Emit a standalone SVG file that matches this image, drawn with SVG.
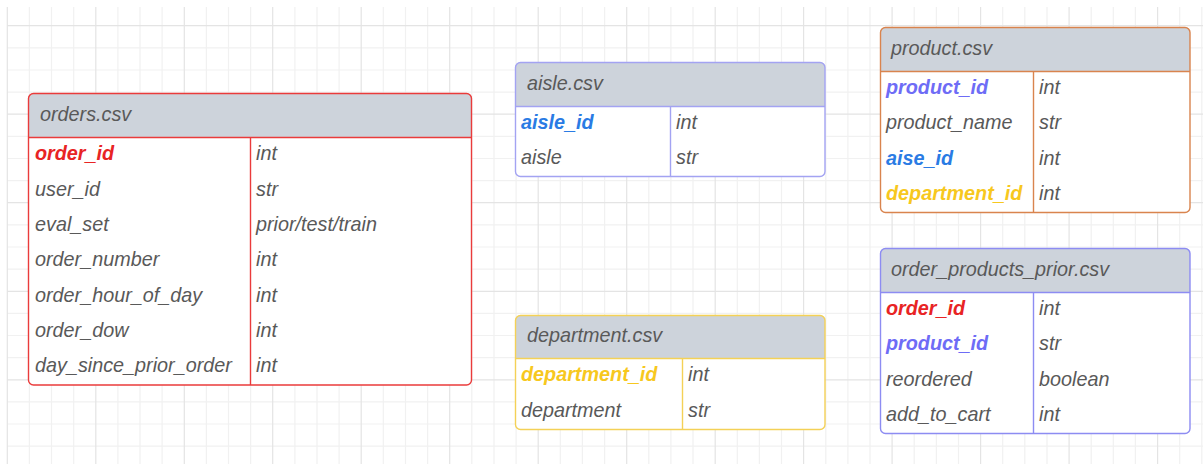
<svg xmlns="http://www.w3.org/2000/svg" width="1203" height="464" viewBox="0 0 1203 464">
<style>
.minor{stroke:#f1f1f1;stroke-width:1.2;fill:none}
.major{stroke:#e4e4e4;stroke-width:1.2;fill:none}
.hdr{fill:#cdd3db}
.box{fill:none;stroke-width:1.4}
.div{stroke-width:1.4}
text{font-family:"Liberation Sans",Arial,sans-serif;font-size:19.8px;font-style:italic;fill:#595959}
.key{font-weight:bold}
</style>
<rect width="1203" height="464" fill="#ffffff"/>
<g id="grid">
<path class="minor" d="M29.4 7V464M51.5 7V464M73.7 7V464M117.9 7V464M140 7V464M162.1 7V464M206.4 7V464M228.5 7V464M250.6 7V464M294.9 7V464M317 7V464M339.1 7V464M383.3 7V464M405.5 7V464M427.6 7V464M471.8 7V464M494 7V464M516.1 7V464M560.3 7V464M582.4 7V464M604.6 7V464M648.8 7V464M670.9 7V464M693 7V464M737.3 7V464M759.4 7V464M781.5 7V464M825.8 7V464M847.9 7V464M870 7V464M914.2 7V464M936.4 7V464M958.5 7V464M1002.7 7V464M1024.8 7V464M1047 7V464M1091.2 7V464M1113.3 7V464M1135.4 7V464M1179.7 7V464M1201.8 7V464M7 47.8H1203M7 70H1203M7 92.1H1203M7 136.4H1203M7 158.5H1203M7 180.6H1203M7 224.9H1203M7 247H1203M7 269.1H1203M7 313.4H1203M7 335.5H1203M7 357.7H1203M7 401.9H1203M7 424H1203M7 446.2H1203"/>
<path class="major" d="M7.3 7V464M95.8 7V464M184.3 7V464M272.7 7V464M361.2 7V464M449.7 7V464M538.2 7V464M626.7 7V464M715.2 7V464M803.6 7V464M892.1 7V464M980.6 7V464M1069.1 7V464M1157.6 7V464M7 25.7H1203M7 114.2H1203M7 202.7H1203M7 291.3H1203M7 379.8H1203"/>
</g>
<g id="connectors"/>
<g id="orders">
<rect x="28.5" y="93.5" width="443" height="291.5" rx="5" fill="#ffffff"/>
<path class="hdr" d="M28.5 137.5V98.5Q28.5 93.5 33.5 93.5H466.5Q471.5 93.5 471.5 98.5V137.5Z"/>
<path class="div" stroke="#ea3b3b" d="M28.5 137.5H471.5M250.5 137.5V385"/>
<rect class="box" stroke="#ea3b3b" x="28.5" y="93.5" width="443" height="291.5" rx="5"/>
<text x="40" y="120.6">orders.csv</text>
<text class="key" x="35" y="160.2" style="fill:#e82424">order_id</text>
<text x="35" y="195.5">user_id</text>
<text x="35" y="230.9">eval_set</text>
<text x="35" y="266.2">order_number</text>
<text x="35" y="301.6">order_hour_of_day</text>
<text x="35" y="336.9">order_dow</text>
<text x="35" y="372.3">day_since_prior_order</text>
<text x="256" y="160.2">int</text>
<text x="256" y="195.5">str</text>
<text x="256" y="230.9">prior/test/train</text>
<text x="256" y="266.2">int</text>
<text x="256" y="301.6">int</text>
<text x="256" y="336.9">int</text>
<text x="256" y="372.3">int</text>
</g>
<g id="aisle">
<rect x="515.5" y="62.5" width="309.5" height="114" rx="5" fill="#ffffff"/>
<path class="hdr" d="M515.5 106.5V67.5Q515.5 62.5 520.5 62.5H820Q825 62.5 825 67.5V106.5Z"/>
<path class="div" stroke="#a3a3f2" d="M515.5 106.5H825M670.5 106.5V176.5"/>
<rect class="box" stroke="#a3a3f2" x="515.5" y="62.5" width="309.5" height="114" rx="5"/>
<text x="527" y="89.8">aisle.csv</text>
<text class="key" x="521" y="129" style="fill:#2a7be4">aisle_id</text>
<text x="521" y="164">aisle</text>
<text x="676" y="129">int</text>
<text x="676" y="164">str</text>
</g>
<g id="department">
<rect x="515.5" y="315.5" width="309.5" height="114" rx="5" fill="#ffffff"/>
<path class="hdr" d="M515.5 358.5V320.5Q515.5 315.5 520.5 315.5H820Q825 315.5 825 320.5V358.5Z"/>
<path class="div" stroke="#f4d157" d="M515.5 358.5H825M682.5 358.5V429.5"/>
<rect class="box" stroke="#f4d157" x="515.5" y="315.5" width="309.5" height="114" rx="5"/>
<text x="527" y="342.3">department.csv</text>
<text class="key" x="521" y="381.3" style="fill:#f7c81e">department_id</text>
<text x="521" y="416.8">department</text>
<text x="688" y="381.3">int</text>
<text x="688" y="416.8">str</text>
</g>
<g id="product">
<rect x="880.5" y="27.5" width="309.5" height="185" rx="5" fill="#ffffff"/>
<path class="hdr" d="M880.5 71.5V32.5Q880.5 27.5 885.5 27.5H1185Q1190 27.5 1190 32.5V71.5Z"/>
<path class="div" stroke="#d9844e" d="M880.5 71.5H1190M1033.5 71.5V212.5"/>
<rect class="box" stroke="#d9844e" x="880.5" y="27.5" width="309.5" height="185" rx="5"/>
<text x="891" y="54.8">product.csv</text>
<text class="key" x="886" y="94.1" style="fill:#6e6cf6">product_id</text>
<text x="886" y="129.4">product_name</text>
<text class="key" x="886" y="164.6" style="fill:#2a7be4">aise_id</text>
<text class="key" x="886" y="199.9" style="fill:#f7c81e">department_id</text>
<text x="1039" y="94.1">int</text>
<text x="1039" y="129.4">str</text>
<text x="1039" y="164.6">int</text>
<text x="1039" y="199.9">int</text>
</g>
<g id="order_products_prior">
<rect x="880.5" y="248.5" width="309.5" height="185" rx="5" fill="#ffffff"/>
<path class="hdr" d="M880.5 292.5V253.5Q880.5 248.5 885.5 248.5H1185Q1190 248.5 1190 253.5V292.5Z"/>
<path class="div" stroke="#8d8cf2" d="M880.5 292.5H1190M1033.5 292.5V433.5"/>
<rect class="box" stroke="#8d8cf2" x="880.5" y="248.5" width="309.5" height="185" rx="5"/>
<text x="891" y="275.8">order_products_prior.csv</text>
<text class="key" x="886" y="315.1" style="fill:#e82424">order_id</text>
<text class="key" x="886" y="350.4" style="fill:#6e6cf6">product_id</text>
<text x="886" y="385.6">reordered</text>
<text x="886" y="420.9">add_to_cart</text>
<text x="1039" y="315.1">int</text>
<text x="1039" y="350.4">str</text>
<text x="1039" y="385.6">boolean</text>
<text x="1039" y="420.9">int</text>
</g>
</svg>
